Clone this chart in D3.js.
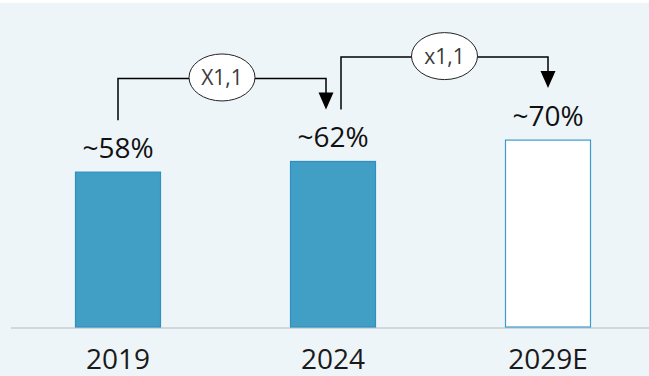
<!DOCTYPE html>
<html>
<head>
<meta charset="utf-8">
<script src="https://cdn.jsdelivr.net/npm/d3@7/dist/d3.min.js"></script>
<style>
  html, body { margin: 0; padding: 0; background: #eef5f9; }
  svg { display: block; }
</style>
</head>
<body>
<svg id="chart" width="649" height="376"></svg>
<script>
// ---- data ----
const categories = ["2019", "2024", "2029E"];
const values = [58, 62, 70];
const valueLabels = ["~58%", "~62%", "~70%"];
const growthLabels = ["X1,1", "x1,1"];   // 2019→2024, 2024→2029E
const projected = [false, false, true];

// ---- layout ----
const W = 649, H = 376;
const svg = d3.select("#chart");
const FONT = "'Open Sans', 'Liberation Sans', sans-serif";

svg.append("rect").attr("width", W).attr("height", H).attr("fill", "#eef5f9");
svg.append("rect").attr("width", W).attr("height", 3).attr("fill", "#ffffff");

const x = d3.scaleBand().domain(categories).range([10.5, 655.5]).paddingInner(0.6).paddingOuter(0.3);
const y = d3.scaleLinear().domain([0, 100]).range([327, 60]);

// axis
const axis = svg.append("g").attr("transform", `translate(0,${y(0) + 0.5})`)
  .call(d3.axisBottom(x).tickSize(0).tickSizeOuter(0).tickPadding(22));
axis.select(".domain").attr("stroke", "#c9cdd1").attr("stroke-width", 1.6);
axis.selectAll(".tick text").attr("font-family", FONT).attr("font-size", 28).attr("fill", "#1a1a1a");

// bars
const data = categories.map((c, i) => ({ c, v: values[i], label: valueLabels[i], proj: projected[i] }));
svg.append("g").selectAll("rect").data(data).join("rect")
  .attr("x", d => x(d.c) + 0.5)
  .attr("y", d => y(d.v))
  .attr("width", x.bandwidth() - 1)
  .attr("height", d => y(0) - y(d.v))
  .attr("fill", d => d.proj ? "#ffffff" : "#419fc6")
  .attr("stroke", d => d.proj ? "#3b9bcf" : "#2f8fbf")
  .attr("stroke-width", 1.2);

// value labels
svg.append("g").selectAll("text").data(data).join("text")
  .attr("x", d => x(d.c) + x.bandwidth() / 2)
  .attr("y", d => y(d.v) - 14)
  .attr("text-anchor", "middle")
  .attr("font-family", FONT).attr("font-size", 28).attr("fill", "#111")
  .text(d => d.label);

// growth connectors
const startOff = [0, 8], endOff = [-7, 0];
const conn = growthLabels.map((g, i) => {
  const a = data[i], b = data[i + 1];
  const x0 = x(a.c) + x.bandwidth() / 2 + startOff[i];
  const x1 = x(b.c) + x.bandwidth() / 2 + endOff[i];
  return { g, x0, x1, yStart: y(a.v) - 52, yTop: y(b.v) - 83, yTip: y(b.v) - 52 };
});
const cg = svg.append("g");
conn.forEach(d => {
  const head = 17;
  cg.append("path")
    .attr("d", `M${d.x0},${d.yStart} V${d.yTop} H${d.x1} V${d.yTip - head + 2}`)
    .attr("fill", "none").attr("stroke", "#000").attr("stroke-width", 1.5);
  cg.append("path")
    .attr("d", `M${d.x1 - 7.5},${d.yTip - head} L${d.x1 + 7.5},${d.yTip - head} L${d.x1},${d.yTip} Z`)
    .attr("fill", "#000");
  const cx = (d.x0 + d.x1) / 2;
  cg.append("ellipse").attr("cx", cx).attr("cy", d.yTop - 1).attr("rx", 33).attr("ry", 23.5)
    .attr("fill", "#fff").attr("stroke", "#222").attr("stroke-width", 1);
  cg.append("text").attr("x", cx).attr("y", d.yTop - 1).attr("dy", "0.36em")
    .attr("text-anchor", "middle").attr("font-family", FONT).attr("font-size", 21)
    .attr("fill", "#3a3a3a").text(d.g);
});
</script>
</body>
</html>
